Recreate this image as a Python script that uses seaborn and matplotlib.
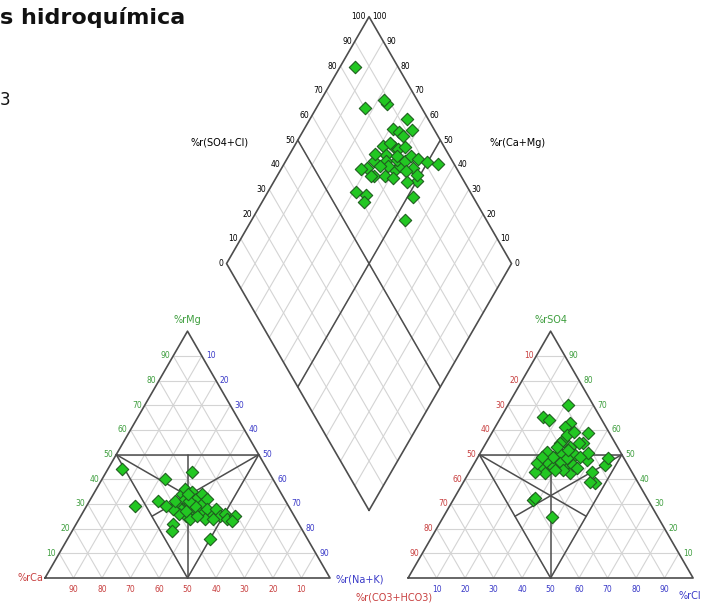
import numpy as np
import pandas as pd
import matplotlib
matplotlib.use("Agg")
import matplotlib.pyplot as plt
import seaborn as sns

# sample compositions (% of meq)
mg  = [44, 29, 31, 40, 43, 22, 19, 16, 34, 36, 33, 35, 32, 34, 30, 32, 30, 28, 30, 28, 28, 26, 28,
       25, 28, 25, 26, 24, 25, 25, 24, 26, 28, 31, 24, 24, 25, 29, 32, 30, 29, 31, 34, 27, 23]
nak = [5, 17, 24, 22, 30, 34, 35, 50, 31, 31, 34, 34, 37, 38, 40, 41, 31, 34, 35, 38, 39, 42, 43,
       46, 46, 49, 50, 52, 54, 37, 39, 34, 31, 30, 44, 47, 41, 28, 33, 36, 38, 35, 33, 36, 54]
so4 = [38.4, 65.4, 54.6, 62.7, 45.1, 42.4, 55.9, 39.0, 46.5, 61.3, 58.6, 54.6, 49.8, 45.8, 42.4,
       54.6, 50.5, 45.8, 46.5, 45.1, 45.8, 53.2, 47.8, 57.9, 50.5, 49.2, 70.1, 53.2, 48.5, 43.8,
       43.1, 43.8, 31.6, 51.2, 64.0, 48.5, 49.2, 43.1, 46.5, 59.3, 44.4, 24.8, 52.0, 32.3, 49.2]
cl  = [46.4, 14.8, 34.2, 25.5, 23.7, 26.9, 26.5, 44.4, 26.0, 24.4, 34.0, 32.5, 33.7, 46.2, 35.6,
       26.0, 28.0, 32.2, 30.1, 28.4, 35.1, 30.2, 38.8, 26.7, 38.0, 35.8, 20.9, 25.6, 46.0, 32.6,
       43.0, 29.7, 28.2, 23.1, 17.6, 31.4, 26.4, 23.1, 22.0, 28.4, 37.0, 38.0, 30.0, 28.5, 22.3]

ticks = [10, 20, 30, 40, 50, 60, 70, 80, 90]
dticks = [0, 10, 20, 30, 40, 50, 60, 70, 80, 90, 100]

H = np.sqrt(3) / 2
GAP = 0.274
OFF = 1 + GAP
BX, BY = (1 + OFF) / 2, GAP / 2 * np.sqrt(3)

GRID = "#d4d4d4"
EDGE = "#4d4d4d"
RED = "#c84040"
GREEN = "#3e9e3e"
BLUE = "#3a3ac8"


def tri(ox, p_apex, p_right):
    # ternary -> cartesian for a triangle starting at x=ox
    return ox + p_right + 0.5 * p_apex, H * p_apex


def dia(a, m):
    return BX + 0.5 * (a - m), BY + H * (a + m)


cat_x, cat_y = tri(0, np.array(mg) / 100, np.array(nak) / 100)
an_x, an_y = tri(OFF, np.array(so4) / 100, np.array(cl) / 100)
d_x, d_y = dia((np.array(so4) + np.array(cl)) / 100, 1 - np.array(nak) / 100)

pts = pd.DataFrame({
    "x": np.concatenate([cat_x, an_x, d_x]),
    "y": np.concatenate([cat_y, an_y, d_y]),
})

sns.set_style("white")
plt.rcParams["font.family"] = ["DejaVu Sans"]

fig = plt.figure(figsize=(7.05, 6.04), dpi=100)
ax = fig.add_axes([0, 0, 1, 1])
ax.set_xlim(-45 / 285, 660 / 285)
ax.set_ylim(-26 / 285, 578 / 285)
ax.set_aspect("equal")
ax.axis("off")


def line(p, q, **kw):
    ax.plot([p[0], q[0]], [p[1], q[1]], **kw)


def draw_triangle(ox):
    for t in ticks:
        f = t / 100
        line(tri(ox, f, 0), tri(ox, f, 1 - f), color=GRID, lw=0.8, zorder=1)
        line(tri(ox, 0, f), tri(ox, 1 - f, f), color=GRID, lw=0.8, zorder=1)
        line(tri(ox, 0, 1 - f), tri(ox, 1 - f, 0), color=GRID, lw=0.8, zorder=1)
    corners = [tri(ox, 0, 0), tri(ox, 0, 1), tri(ox, 1, 0), tri(ox, 0, 0)]
    ax.plot([c[0] for c in corners], [c[1] for c in corners], color=EDGE, lw=1.2, zorder=2)
    A, B, C = (ox + 0.25, H / 2), (ox + 0.75, H / 2), (ox + 0.5, 0)
    G = (ox + 0.5, H / 3)
    for p, q in [(A, B), (A, C), (B, C), (C, (ox + 0.5, H / 2)), (G, A), (G, B),
                 (G, (ox + 0.375, H / 4)), (G, (ox + 0.625, H / 4))]:
        line(p, q, color=EDGE, lw=1.1, zorder=2)


draw_triangle(0)
draw_triangle(OFF)

# diamond
for t in ticks:
    f = t / 100
    line(dia(f, 0), dia(f, 1), color=GRID, lw=0.8, zorder=1)
    line(dia(0, f), dia(1, f), color=GRID, lw=0.8, zorder=1)
corners = [dia(0, 0), dia(1, 0), dia(1, 1), dia(0, 1), dia(0, 0)]
ax.plot([c[0] for c in corners], [c[1] for c in corners], color=EDGE, lw=1.2, zorder=2)
line(dia(0.5, 0), dia(0.5, 1), color=EDGE, lw=1.1, zorder=2)
line(dia(0, 0.5), dia(1, 0.5), color=EDGE, lw=1.1, zorder=2)

sns.scatterplot(data=pts, x="x", y="y", marker="D", s=40, color="#22c722",
                edgecolor="#1f5f1f", linewidth=0.8, ax=ax, zorder=5, legend=False)

px = 1 / 285
fs = 5.5
# cation triangle tick labels
for t in ticks:
    f = t / 100
    x, y = tri(0, f, 0)
    ax.text(x - 3 * px, y, str(t), color=GREEN, fontsize=fs, ha="right", va="center")
    x, y = tri(0, f, 1 - f)
    ax.text(x + 4 * px, y, str(100 - t), color=BLUE, fontsize=fs, ha="left", va="center")
    x, y = tri(0, 0, f)
    ax.text(x, y - 12 * px, str(100 - t), color=RED, fontsize=fs, ha="center", va="center")
# anion triangle tick labels
for t in ticks:
    f = t / 100
    x, y = tri(OFF, f, 0)
    ax.text(x - 3 * px, y, str(100 - t), color=RED, fontsize=fs, ha="right", va="center")
    x, y = tri(OFF, f, 1 - f)
    ax.text(x + 4 * px, y, str(t), color=GREEN, fontsize=fs, ha="left", va="center")
    x, y = tri(OFF, 0, f)
    ax.text(x, y - 12 * px, str(t), color=BLUE, fontsize=fs, ha="center", va="center")
# diamond tick labels
for t in dticks:
    f = t / 100
    x, y = dia(f, 1)
    ax.text(x - 3 * px, y, str(t), color="black", fontsize=fs, ha="right", va="center")
    x, y = dia(1, f)
    ax.text(x + 3 * px, y, str(t), color="black", fontsize=fs, ha="left", va="center")

fs2 = 7
ax.text(tri(0, 1, 0)[0], H + 6 * px, "%rMg", color=GREEN, fontsize=fs2, ha="center", va="bottom")
ax.text(-2 * px, 0, "%rCa", color=RED, fontsize=fs2, ha="right", va="center")
ax.text(1 + 6 * px, -2 * px, "%r(Na+K)", color=BLUE, fontsize=fs2, ha="left", va="center")
ax.text(tri(OFF, 1, 0)[0], H + 6 * px, "%rSO4", color=GREEN, fontsize=fs2, ha="center", va="bottom")
ax.text(OFF - 53 * px, -19 * px, "%r(CO3+HCO3)", color=RED, fontsize=fs2, ha="left", va="center")
ax.text(OFF + 1 - 15 * px, -18 * px, "%rCl", color=BLUE, fontsize=fs2, ha="left", va="center")
ax.text(175 * px, 435 * px, "%r(SO4+Cl)", color="black", fontsize=fs2, ha="center", va="center")
ax.text(473 * px, 435 * px, "%r(Ca+Mg)", color="black", fontsize=fs2, ha="center", va="center")

ax.text(-45 * px, 560 * px, "s hidroquímica", fontsize=16, fontweight="bold",
        ha="left", va="center", color="#111111")
ax.text(-45 * px, 478 * px, "3", fontsize=12, ha="left", va="center", color="#111111")

fig.savefig("out.png", dpi=100)
